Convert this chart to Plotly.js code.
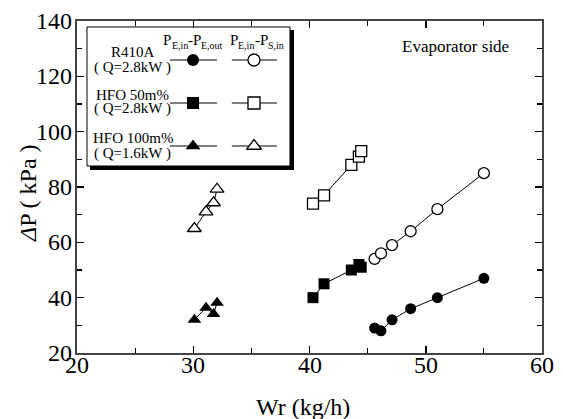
<!DOCTYPE html>
<html>
<head>
<meta charset="utf-8">
<script src="https://cdn.plot.ly/plotly-3.0.1.min.js"></script>
<style>
html,body{margin:0;padding:0;background:#fff;}
#chart{width:563px;height:419px;}
</style>
</head>
<body>
<div id="chart"></div>
<script>
// ---- data ----
const r410aWr = [45.6, 46.15, 47.1, 48.7, 51.0, 55.0];
const r410aDpOut = [29, 28, 32, 36, 40, 47];
const r410aDpSin = [54, 56, 59, 64, 72, 85];

const hfo50Wr = [40.3, 41.25, 43.6, 44.25, 44.45];
const hfo50DpOut = [40, 45, 50, 52, 51];
const hfo50DpSin = [74, 77, 88, 91, 93];

const hfo100Wr = [30.1, 31.1, 31.75, 32.05];
const hfo100DpOut = [32, 36.4, 34.1, 38.2];
const hfo100DpSin = [65, 71, 74.3, 79.2];

const xTickVals = [20, 30, 40, 50, 60];
const yTickVals = [20, 40, 60, 80, 100, 120, 140];

const legendNames = ["R410A", "HFO 50m%", "HFO 100m%"];
const legendLoads = ["( Q=2.8kW )", "( Q=2.8kW )", "( Q=1.6kW )"];
// header pieces: [main, sub, main, sub]
const legendHead1 = ["P", "E,in", "-P", "E,out"];
const legendHead2 = ["P", "E,in", "-P", "S,in"];
const symbolsFilled = ["circle", "square", "triangle-up"];
const xTitle = "Wr (kg/h)";
const yTitle = "<i>Δ</i>P ( kPa )";
const note = "Evaporator side";

// ---- styling ----
const FONT = "Liberation Serif";
const msize = {"circle": 11, "square": 11, "triangle-up": 12};
function f(size) { return {family: FONT, size: size, color: "black"}; }

function series(x, y, sym, filled) {
  return {
    type: "scatter", mode: "lines+markers", x: x, y: y,
    line: {color: "black", width: 1},
    marker: {symbol: sym, size: msize[sym], color: filled ? "black" : "white",
             line: {color: "black", width: filled ? 0 : 1.3}},
    showlegend: false, hoverinfo: "skip"
  };
}

const traces = [
  series(r410aWr, r410aDpOut, "circle", true),
  series(r410aWr, r410aDpSin, "circle", false),
  series(hfo50Wr, hfo50DpOut, "square", true),
  series(hfo50Wr, hfo50DpSin, "square", false),
  series(hfo100Wr, hfo100DpOut, "triangle-up", true),
  series(hfo100Wr, hfo100DpSin, "triangle-up", false)
];

// legend layout (fractions of plot area)
const rowY = [0.8825, 0.753, 0.6235];
const colX = [0.2495, 0.3806];
const lineSpan = [[0.20, 0.301], [0.333, 0.430]];
const shapes = [];
shapes.push({type: "rect", xref: "paper", yref: "paper", x0: 0.0215, x1: 0.458, y0: 0.5633, y1: 0.982,
  line: {color: "black", width: 1}, fillcolor: "white", layer: "below"});
shapes.push({type: "line", xref: "paper", yref: "paper", x0: 0.4624, x1: 0.4624, y0: 0.5542, y1: 0.9729,
  line: {color: "black", width: 4}, layer: "below"});
shapes.push({type: "line", xref: "paper", yref: "paper", x0: 0.028, x1: 0.4667, y0: 0.5572, y1: 0.5572,
  line: {color: "black", width: 4}, layer: "below"});

for (let r = 0; r < 3; r++) {
  for (let c = 0; c < 2; c++) {
    shapes.push({type: "line", xref: "paper", yref: "paper", x0: lineSpan[c][0], x1: lineSpan[c][1],
      y0: rowY[r], y1: rowY[r], line: {color: "black", width: 1}, layer: "below"});
    const sym = symbolsFilled[r];
    traces.push({type: "scatter", mode: "markers", xaxis: "x2", yaxis: "y2",
      x: [colX[c]], y: [rowY[r]],
      marker: {symbol: sym, size: msize[sym] + 1, color: c === 0 ? "black" : "white",
               line: {color: "black", width: c === 0 ? 0 : 1.3}},
      showlegend: false, hoverinfo: "skip"});
  }
}

const annotations = [];
const nameY = [0.906, 0.776, 0.648];
const loadY = [0.861, 0.735, 0.6024];
for (let r = 0; r < 3; r++) {
  annotations.push({xref: "paper", yref: "paper", x: 0.1204, y: nameY[r], text: legendNames[r],
    showarrow: false, xanchor: "center", yanchor: "middle", font: f(15)});
  annotations.push({xref: "paper", yref: "paper", x: 0.1204, y: loadY[r], text: legendLoads[r],
    showarrow: false, xanchor: "center", yanchor: "middle", font: f(15)});
}
const head1X = [0.183, 0.2015, 0.2365, 0.2655];
const head2X = [0.3265, 0.345, 0.38, 0.409];
const headY = [0.9428, 0.9277, 0.9428, 0.9277];
const headSize = [15, 10, 15, 10];
[[legendHead1, head1X], [legendHead2, head2X]].forEach(function (h) {
  for (let i = 0; i < 4; i++) {
    annotations.push({xref: "paper", yref: "paper", x: h[1][i], y: headY[i], text: h[0][i],
      showarrow: false, xanchor: "left", yanchor: "middle", borderpad: 0, font: f(headSize[i])});
  }
});
annotations.push({xref: "paper", yref: "paper", x: 0.813, y: 0.9217, text: note, showarrow: false,
  xanchor: "center", yanchor: "middle", font: f(17)});

// tick labels and axis titles as serif text
xTickVals.forEach(function (v) {
  annotations.push({xref: "x", yref: "paper", x: v, y: 0, text: String(v), showarrow: false,
    xanchor: "center", yanchor: "middle", yshift: -12, font: f(24)});
});
yTickVals.forEach(function (v) {
  annotations.push({xref: "paper", yref: "y", x: 0, y: v, text: String(v), showarrow: false,
    xanchor: "right", yanchor: "middle", xshift: -3, font: f(24)});
});
annotations.push({xref: "paper", yref: "paper", x: 0.486, y: -0.1627, text: xTitle, showarrow: false,
  xanchor: "center", yanchor: "middle", font: f(24)});
annotations.push({xref: "paper", yref: "paper", x: -0.1054, y: 0.482, text: yTitle, showarrow: false,
  textangle: -90, xanchor: "center", yanchor: "middle", font: f(24)});

function axis(extra) {
  const a = {
    showgrid: false, zeroline: false, showline: true, linecolor: "#444", linewidth: 2,
    mirror: "allticks", ticks: "inside", ticklen: 7, tickwidth: 1.5, tickcolor: "black",
    showticklabels: false
  };
  return Object.assign(a, extra);
}

const layout = {
  width: 563, height: 419,
  margin: {l: 77, r: 21, t: 21, b: 66},
  paper_bgcolor: "white", plot_bgcolor: "white",
  font: {family: FONT, color: "black"},
  xaxis: axis({range: [20, 60], tickvals: xTickVals,
    minor: {ticks: "inside", ticklen: 5, tickwidth: 1.2, tickcolor: "black", dtick: 5}}),
  yaxis: axis({range: [20, 140], tickvals: yTickVals,
    minor: {ticks: "inside", ticklen: 5, tickwidth: 1.2, tickcolor: "black", dtick: 10}}),
  xaxis2: {overlaying: "x", range: [0, 1], visible: false, fixedrange: true},
  yaxis2: {overlaying: "y", range: [0, 1], visible: false, fixedrange: true},
  shapes: shapes,
  annotations: annotations,
  showlegend: false
};

Plotly.newPlot("chart", traces, layout, {displayModeBar: false, staticPlot: true});
</script>
</body>
</html>
